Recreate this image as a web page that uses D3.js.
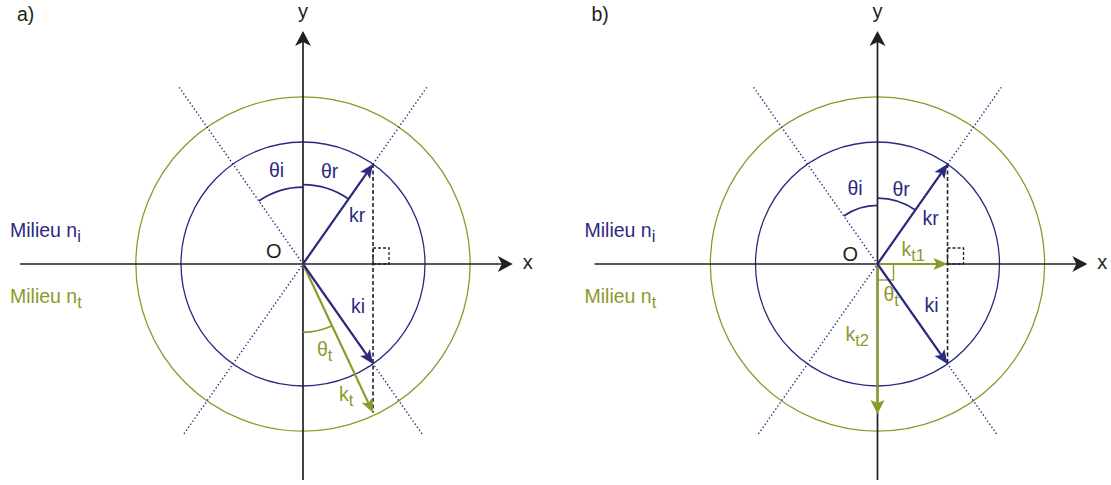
<!DOCTYPE html>
<html><head><meta charset="utf-8">
<script src="https://cdn.jsdelivr.net/npm/d3@7"></script>
<style>
body{margin:0;background:#fff}
svg{display:block}
text{font-family:"Liberation Sans",Arial,Helvetica,sans-serif}
</style>
</head><body>
<svg id="c" width="1111" height="485"></svg>
<script>
// ---------------- data (wave-vector diagram, units: inner circle radius = 1) ----------------
const panelLabels = ["a)", "b)"];
const mediumNames = ["Milieu n", "Milieu n"];
const mediumSubs = ["i", "t"];
const circleRadii = [1.0, 1.37];          // |k| circles in medium n_i and n_t
const kiVec = [0.574, -0.819];            // incident
const krVec = [0.574, 0.819];             // reflected
const ktVec = [0.574, -1.22];             // transmitted (panel a)
const kt1Vec = [0.574, 0];                // transmitted, tangential (panel b)
const kt2Vec = [0, -1.23];                // transmitted, normal (panel b)
const axisExtentX = [-2.32, 1.72];
const axisExtentY = [-1.77, 1.91];
const guideExtent = [-1.70, 1.78];
const arcRadiiA = [0.63, 0.65, 0.56];     // θi, θr, θt arcs (panel a)
const arcRadiiB = [0.48, 0.54];           // θi, θr arcs (panel b)

// ---------------- layout / style ----------------
const UNIT = 122;
const origins = [[303, 264], [877.5, 264]];
const NAVY = "#2b2a80", GREEN = "#8c992c", BLACK = "#231f20";
const FS = 19.5, SUBFS = 16.5;
const svg = d3.select("#c");

function head(g, tip, ang, L, Wd, notch, color) {
  const c = Math.cos(ang), s = Math.sin(ang);
  const pts = [[0, 0], [-L, -Wd / 2], [-L + notch, 0], [-L, Wd / 2]]
    .map(([u, v]) => [tip[0] + u * c - v * s, tip[1] + u * s + v * c]);
  g.append("path").attr("d", "M" + pts.map(p => p.join(",")).join("L") + "Z").attr("fill", color);
}
function vec(g, p0, p1, color, sw, L, Wd, notch) {
  const ang = Math.atan2(p1[1] - p0[1], p1[0] - p0[0]);
  const back = L - notch;
  g.append("line")
    .attr("x1", p0[0]).attr("y1", p0[1])
    .attr("x2", p1[0] - Math.cos(ang) * back).attr("y2", p1[1] - Math.sin(ang) * back)
    .attr("stroke", color).attr("stroke-width", sw);
  head(g, p1, ang, L, Wd, notch, color);
}
function label(g, x, y, main, sub, color, size) {
  const t = g.append("text").attr("x", x).attr("y", y).attr("fill", color)
    .attr("font-size", size || FS);
  t.append("tspan").text(main);
  if (sub) t.append("tspan").attr("dy", 5).attr("font-size", SUBFS).text(sub);
  return t;
}
function arc(g, cx, cy, r, a0, a1, color) {
  const p = d3.path();
  p.arc(cx, cy, r, a0, a1, a1 < a0);
  g.append("path").attr("d", p.toString()).attr("fill", "none")
    .attr("stroke", color).attr("stroke-width", 1.7);
}

panelLabels.forEach((pl, i) => {
  const [ox, oy] = origins[i];
  const x = d3.scaleLinear().domain([0, 1]).range([ox, ox + UNIT]);
  const y = d3.scaleLinear().domain([0, 1]).range([oy, oy - UNIT]);
  const P = v => [x(v[0]), y(v[1])];
  const g = svg.append("g");

  // panel label and medium names
  g.append("text").attr("x", ox - 286).attr("y", 21).attr("font-size", FS).attr("fill", BLACK).text(pl);
  label(g, ox - 293, 237, mediumNames[0], mediumSubs[0], NAVY);
  label(g, ox - 293, 303, mediumNames[1], mediumSubs[1], GREEN);

  // circles
  circleRadii.forEach((r, j) => {
    g.append("circle").attr("cx", x(0)).attr("cy", y(0)).attr("r", x(r) - x(0))
      .attr("fill", "none").attr("stroke", j === 0 ? NAVY : GREEN).attr("stroke-width", 1.3);
  });

  // dotted guide lines along the ki / kr directions
  [krVec, [-kiVec[0], -kiVec[1]]].forEach(d => {
    const n = Math.hypot(d[0], d[1]);
    const u = [d[0] / n, d[1] / n];
    g.append("line")
      .attr("x1", x(u[0] * guideExtent[0])).attr("y1", y(u[1] * guideExtent[0]))
      .attr("x2", x(u[0] * guideExtent[1])).attr("y2", y(u[1] * guideExtent[1]))
      .attr("stroke", NAVY).attr("stroke-width", 1.4).attr("stroke-dasharray", "1.4,2.3");
  });

  // axes
  g.append("line").attr("x1", x(axisExtentX[0])).attr("y1", y(0)).attr("x2", x(axisExtentX[1]) - 8).attr("y2", y(0))
    .attr("stroke", BLACK).attr("stroke-width", 1.7);
  head(g, [x(axisExtentX[1]), y(0)], 0, 15, 16, 4, BLACK);
  g.append("line").attr("x1", x(0)).attr("y1", y(axisExtentY[0])).attr("x2", x(0)).attr("y2", y(axisExtentY[1]) + 8)
    .attr("stroke", BLACK).attr("stroke-width", 1.7);
  head(g, [x(0), y(axisExtentY[1])], -Math.PI / 2, 15, 16, 4, BLACK);
  g.append("text").attr("x", x(axisExtentX[1]) + 10).attr("y", y(0) + 4.5).attr("font-size", 20).attr("fill", BLACK).text("x");
  g.append("text").attr("x", x(0)).attr("y", 18).attr("text-anchor", "middle").attr("font-size", 20).attr("fill", BLACK).text("y");

  // dashed projection line and right-angle mark
  const bottom = i === 0 ? ktVec : kiVec;
  g.append("line").attr("x1", x(krVec[0])).attr("y1", y(krVec[1])).attr("x2", x(bottom[0])).attr("y2", y(bottom[1]))
    .attr("stroke", BLACK).attr("stroke-width", 1.6).attr("stroke-dasharray", "4,2.5");
  g.append("rect").attr("x", x(krVec[0])).attr("y", y(0) - 16).attr("width", 16).attr("height", 16)
    .attr("fill", "none").attr("stroke", BLACK).attr("stroke-width", 1.3).attr("stroke-dasharray", "3,2");

  const angIsvg = Math.atan2(y(-kiVec[1]) - y(0), x(-kiVec[0]) - x(0));
  const angRsvg = Math.atan2(y(krVec[1]) - y(0), x(krVec[0]) - x(0));
  const up = -Math.PI / 2;

  if (i === 0) {
    arc(g, x(0), y(0), arcRadiiA[0] * UNIT, angIsvg, up, NAVY);
    arc(g, x(0), y(0), arcRadiiA[1] * UNIT, up, angRsvg, NAVY);
    const angT = Math.atan2(y(ktVec[1]) - y(0), x(ktVec[0]) - x(0));
    arc(g, x(0), y(0), arcRadiiA[2] * UNIT, angT, Math.PI / 2, GREEN);
    vec(g, P([0, 0]), P(ktVec), GREEN, 2.2, 14, 12, 3);
    vec(g, P([0, 0]), P(krVec), NAVY, 2.2, 14, 12, 3);
    vec(g, P([0, 0]), P(kiVec), NAVY, 2.2, 14, 12, 3);
    label(g, ox - 34, oy - 87, "θi", null, NAVY);
    label(g, ox + 18, oy - 86, "θr", null, NAVY);
    label(g, ox + 46, oy - 42, "kr", null, NAVY);
    label(g, ox - 37, oy - 6, "O", null, BLACK, 20);
    label(g, ox + 48, oy + 49, "ki", null, NAVY);
    label(g, ox + 14, oy + 92, "θ", "t", GREEN);
    label(g, ox + 36, oy + 137, "k", "t", GREEN);
  } else {
    arc(g, x(0), y(0), arcRadiiB[0] * UNIT, angIsvg, up, NAVY);
    arc(g, x(0), y(0), arcRadiiB[1] * UNIT, up, angRsvg, NAVY);
    g.append("rect").attr("x", x(0)).attr("y", y(0)).attr("width", 16).attr("height", 16)
      .attr("fill", "none").attr("stroke", GREEN).attr("stroke-width", 1.3);
    vec(g, P([0, 0]), P(kt1Vec), GREEN, 2.2, 14, 12, 3);
    vec(g, P([0, 0]), P(kt2Vec), GREEN, 2.2, 14, 14, 3);
    vec(g, P([0, 0]), P(krVec), NAVY, 2.2, 14, 12, 3);
    vec(g, P([0, 0]), P(kiVec), NAVY, 2.2, 14, 12, 3);
    label(g, ox - 30, oy - 69, "θi", null, NAVY);
    label(g, ox + 15, oy - 68, "θr", null, NAVY);
    label(g, ox + 45, oy - 39, "kr", null, NAVY);
    label(g, ox - 35, oy - 3, "O", null, BLACK, 20);
    label(g, ox + 24, oy - 8, "k", "t1", GREEN);
    label(g, ox + 6, oy + 37, "θ", "t", GREEN);
    label(g, ox + 47, oy + 48, "ki", null, NAVY);
    label(g, ox - 32, oy + 77, "k", "t2", GREEN);
  }
});
</script>
</body></html>
